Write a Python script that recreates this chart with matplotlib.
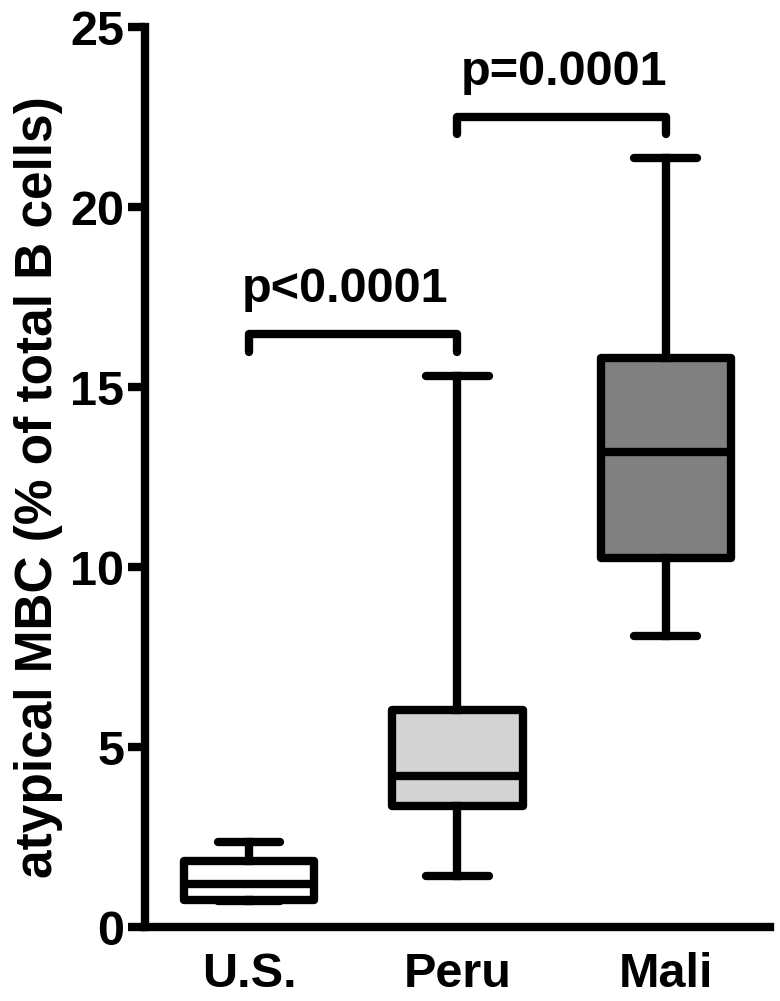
import matplotlib
matplotlib.use("Agg")
import matplotlib.pyplot as plt

# Data
categories = ["U.S.", "Peru", "Mali"]
whisker_low = [0.72, 1.42, 8.08]
q1 = [0.75, 3.36, 10.25]
median = [1.19, 4.19, 13.2]
q3 = [1.83, 6.03, 15.8]
whisker_high = [2.36, 15.3, 21.36]
box_colors = ["#ffffff", "#d3d3d3", "#808080"]

comparisons = [(0, 1), (1, 2)]
p_labels = ["p<0.0001", "p=0.0001"]
bracket_top = [16.47, 22.5]
bracket_drop = [0.5, 0.47]
label_y = [17.35, 23.4]
label_x = [0.46, 1.51]

yticks = [0, 5, 10, 15, 20, 25]
ylabel = "atypical MBC (% of total B cells)"

plt.rcParams['font.family'] = ['Liberation Sans', 'DejaVu Sans']
plt.rcParams['font.weight'] = 'bold'

fig = plt.figure(figsize=(7.8, 10.01), dpi=100)
ax = fig.add_axes([0.186, 0.0739, 0.801, 0.899])

lw = 6
fs = 35
stats = []
for i, c in enumerate(categories):
    stats.append(dict(label=c, whislo=whisker_low[i], q1=q1[i], med=median[i],
                      q3=q3[i], whishi=whisker_high[i], fliers=[]))
bp = ax.bxp(stats, positions=range(len(categories)), widths=0.625,
            patch_artist=True, showfliers=False, capwidths=0.3,
            boxprops=dict(linewidth=lw, edgecolor='black', joinstyle='round'),
            medianprops=dict(linewidth=lw, color='black'),
            whiskerprops=dict(linewidth=lw, color='black'),
            capprops=dict(linewidth=lw, color='black', solid_capstyle='round'))
for patch, col in zip(bp['boxes'], box_colors):
    patch.set_facecolor(col)

for (a, b), lab, top, drop, ly, lx in zip(comparisons, p_labels, bracket_top,
                                          bracket_drop, label_y, label_x):
    ax.plot([a, a, b, b], [top - drop, top, top, top - drop], color='black',
            linewidth=lw, solid_capstyle='round', solid_joinstyle='round',
            clip_on=False)
    ax.text(lx, ly, lab, ha='center', va='baseline', fontsize=fs,
            fontweight='bold')

ax.set_xlim(-0.5, 2.5)
ax.set_ylim(0, 25)
ax.set_yticks(yticks)
ax.set_yticklabels([str(t) for t in yticks], fontsize=fs, fontweight='bold')
ax.set_xticks(range(len(categories)))
ax.set_xticklabels(categories, fontsize=fs, fontweight='bold')
ax.tick_params(axis='y', length=12, width=lw, pad=3)
ax.tick_params(axis='x', length=0, pad=18)
ax.set_ylabel(ylabel, fontsize=37, fontweight='bold')
ax.yaxis.set_label_coords(-0.131, 0.489)
for s in ['top', 'right']:
    ax.spines[s].set_visible(False)
for s in ['left', 'bottom']:
    ax.spines[s].set_linewidth(lw)

fig.savefig("out.png", dpi=100)
